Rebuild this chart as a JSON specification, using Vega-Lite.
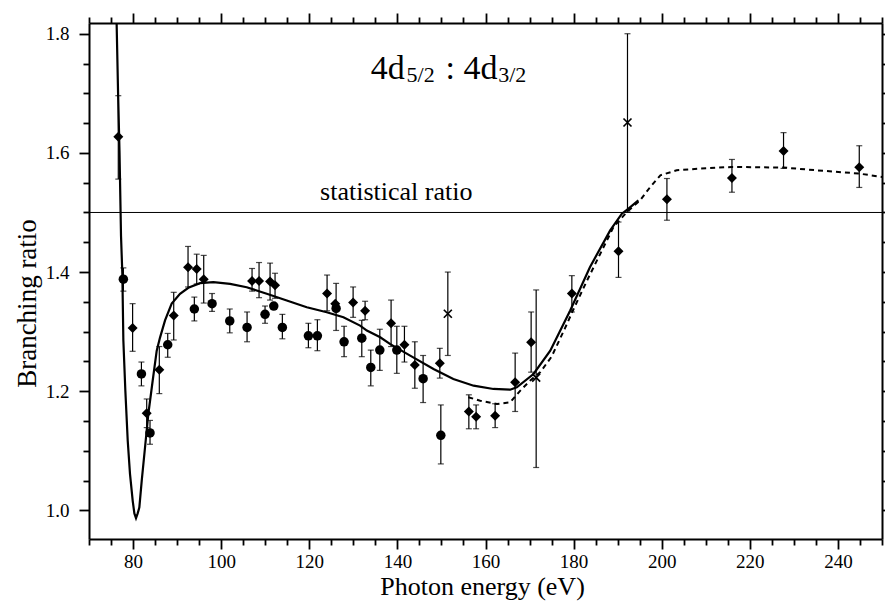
{
  "$schema": "https://vega.github.io/schema/vega-lite/v6.json",
  "width": 793,
  "height": 516,
  "autosize": "none",
  "padding": {"left": 89, "top": 23, "right": 3, "bottom": 63},
  "background": "white",
  "config": {
    "font": "Liberation Serif",
    "view": {"stroke": null},
    "axis": {
      "domainColor": "black", "domainWidth": 2, "tickColor": "black", "tickWidth": 1.8,
      "labelColor": "black", "labelFontSize": 19, "labelFont": "Liberation Serif",
      "titleFont": "Liberation Serif", "titleFontSize": 27, "titleFontWeight": "normal",
      "titleColor": "black", "grid": false, "labelOverlap": false, "labelFlush": false
    }
  },
  "datasets": {
    "pts": [
      {"x": 76.65, "y": 1.627, "lo": 1.556, "hi": 1.696, "m": "d"},
      {"x": 77.8, "y": 1.388, "lo": 1.368, "hi": 1.407, "m": "c"},
      {"x": 79.9, "y": 1.306, "lo": 1.267, "hi": 1.347, "m": "d"},
      {"x": 81.9, "y": 1.229, "lo": 1.209, "hi": 1.249, "m": "c"},
      {"x": 83.1, "y": 1.163, "lo": 1.139, "hi": 1.187, "m": "d"},
      {"x": 83.85, "y": 1.13, "lo": 1.111, "hi": 1.151, "m": "c"},
      {"x": 85.96, "y": 1.236, "lo": 1.196, "hi": 1.275, "m": "d"},
      {"x": 87.87, "y": 1.278, "lo": 1.257, "hi": 1.297, "m": "c"},
      {"x": 89.23, "y": 1.327, "lo": 1.286, "hi": 1.366, "m": "d"},
      {"x": 92.48, "y": 1.408, "lo": 1.375, "hi": 1.443, "m": "d"},
      {"x": 93.91, "y": 1.338, "lo": 1.318, "hi": 1.358, "m": "c"},
      {"x": 94.45, "y": 1.405, "lo": 1.38, "hi": 1.43, "m": "d"},
      {"x": 96.04, "y": 1.388, "lo": 1.348, "hi": 1.428, "m": "d"},
      {"x": 97.93, "y": 1.347, "lo": 1.334, "hi": 1.364, "m": "c"},
      {"x": 101.95, "y": 1.318, "lo": 1.298, "hi": 1.338, "m": "c"},
      {"x": 105.88, "y": 1.307, "lo": 1.283, "hi": 1.333, "m": "c"},
      {"x": 107.01, "y": 1.385, "lo": 1.368, "hi": 1.406, "m": "d"},
      {"x": 108.6, "y": 1.385, "lo": 1.357, "hi": 1.416, "m": "d"},
      {"x": 109.96, "y": 1.329, "lo": 1.314, "hi": 1.343, "m": "c"},
      {"x": 111.1, "y": 1.384, "lo": 1.353, "hi": 1.415, "m": "d"},
      {"x": 112.23, "y": 1.378, "lo": 1.356, "hi": 1.398, "m": "d"},
      {"x": 111.94, "y": 1.343, "lo": null, "hi": null, "m": "c"},
      {"x": 113.89, "y": 1.307, "lo": 1.288, "hi": 1.329, "m": "c"},
      {"x": 119.8, "y": 1.293, "lo": 1.273, "hi": 1.314, "m": "c"},
      {"x": 121.84, "y": 1.293, "lo": 1.268, "hi": 1.32, "m": "c"},
      {"x": 124.04, "y": 1.364, "lo": 1.335, "hi": 1.395, "m": "d"},
      {"x": 126.09, "y": 1.339, "lo": 1.302, "hi": 1.381, "m": "c"},
      {"x": 125.9, "y": 1.347, "lo": null, "hi": null, "m": "d"},
      {"x": 127.9, "y": 1.283, "lo": 1.258, "hi": 1.309, "m": "c"},
      {"x": 129.95, "y": 1.349, "lo": 1.324, "hi": 1.375, "m": "d"},
      {"x": 131.92, "y": 1.289, "lo": 1.258, "hi": 1.319, "m": "c"},
      {"x": 132.67, "y": 1.335, "lo": 1.32, "hi": 1.351, "m": "d"},
      {"x": 133.96, "y": 1.24, "lo": 1.209, "hi": 1.269, "m": "c"},
      {"x": 136.01, "y": 1.269, "lo": 1.235, "hi": 1.304, "m": "c"},
      {"x": 138.57, "y": 1.314, "lo": 1.275, "hi": 1.353, "m": "d"},
      {"x": 139.87, "y": 1.269, "lo": 1.23, "hi": 1.309, "m": "c"},
      {"x": 141.6, "y": 1.278, "lo": 1.249, "hi": 1.309, "m": "d"},
      {"x": 143.96, "y": 1.244, "lo": 1.205, "hi": 1.283, "m": "d"},
      {"x": 145.84, "y": 1.221, "lo": 1.181, "hi": 1.26, "m": "c"},
      {"x": 149.63, "y": 1.247, "lo": 1.222, "hi": 1.272, "m": "d"},
      {"x": 149.86, "y": 1.126, "lo": 1.078, "hi": 1.177, "m": "c"},
      {"x": 151.45, "y": 1.33, "lo": 1.26, "hi": 1.4, "m": "x"},
      {"x": 156.22, "y": 1.166, "lo": 1.137, "hi": 1.194, "m": "d"},
      {"x": 157.87, "y": 1.157, "lo": 1.137, "hi": 1.177, "m": "d"},
      {"x": 162.19, "y": 1.159, "lo": 1.139, "hi": 1.179, "m": "d"},
      {"x": 166.73, "y": 1.215, "lo": 1.166, "hi": 1.264, "m": "d"},
      {"x": 170.36, "y": 1.282, "lo": 1.232, "hi": 1.333, "m": "d"},
      {"x": 171.5, "y": 1.223, "lo": 1.072, "hi": 1.37, "m": "x"},
      {"x": 179.6, "y": 1.364, "lo": 1.333, "hi": 1.394, "m": "d"},
      {"x": 190.19, "y": 1.435, "lo": 1.391, "hi": 1.484, "m": "d"},
      {"x": 192.23, "y": 1.651, "lo": 1.501, "hi": 1.8, "m": "x"},
      {"x": 201.18, "y": 1.522, "lo": 1.487, "hi": 1.557, "m": "d"},
      {"x": 215.94, "y": 1.558, "lo": 1.534, "hi": 1.589, "m": "d"},
      {"x": 227.65, "y": 1.603, "lo": 1.574, "hi": 1.634, "m": "d"},
      {"x": 244.84, "y": 1.576, "lo": 1.542, "hi": 1.612, "m": "d"}
    ],
    "solid": [
      {"x": 76.27, "y": 1.818}, {"x": 76.6, "y": 1.7}, {"x": 76.93, "y": 1.6},
      {"x": 77.27, "y": 1.46}, {"x": 77.57, "y": 1.397}, {"x": 77.8, "y": 1.285},
      {"x": 78.25, "y": 1.201}, {"x": 78.79, "y": 1.117}, {"x": 79.31, "y": 1.061},
      {"x": 79.92, "y": 1.016}, {"x": 80.3, "y": 0.995}, {"x": 80.67, "y": 0.987},
      {"x": 81.05, "y": 0.995}, {"x": 81.43, "y": 1.005}, {"x": 81.97, "y": 1.05},
      {"x": 82.72, "y": 1.106}, {"x": 83.47, "y": 1.162}, {"x": 84.46, "y": 1.218},
      {"x": 85.37, "y": 1.268}, {"x": 86.12, "y": 1.29}, {"x": 87.26, "y": 1.319},
      {"x": 88.77, "y": 1.347}, {"x": 90.66, "y": 1.3635}, {"x": 92.55, "y": 1.3736},
      {"x": 95.2, "y": 1.3813}, {"x": 98.23, "y": 1.383}, {"x": 102.02, "y": 1.3803},
      {"x": 105.8, "y": 1.3746}, {"x": 110.35, "y": 1.3635}, {"x": 114.89, "y": 1.3523},
      {"x": 119.43, "y": 1.341}, {"x": 123.97, "y": 1.3326}, {"x": 127.75, "y": 1.3242},
      {"x": 131.53, "y": 1.3102}, {"x": 133.07, "y": 1.3018}, {"x": 136.1, "y": 1.2906},
      {"x": 138.3, "y": 1.2794}, {"x": 142.9, "y": 1.2598}, {"x": 148.2, "y": 1.2374},
      {"x": 152.7, "y": 1.2206}, {"x": 157.3, "y": 1.2093}, {"x": 161.8, "y": 1.2038},
      {"x": 165.6, "y": 1.2026}, {"x": 167.1, "y": 1.2065}, {"x": 170.9, "y": 1.2289},
      {"x": 174.7, "y": 1.268}, {"x": 179.2, "y": 1.3352}, {"x": 183.7, "y": 1.4082},
      {"x": 188.3, "y": 1.47}, {"x": 190.95, "y": 1.498}, {"x": 192.46, "y": 1.5064},
      {"x": 194.7, "y": 1.5204}
    ],
    "dashed": [
      {"x": 156.1, "y": 1.19}, {"x": 158.8, "y": 1.184}, {"x": 162.6, "y": 1.1785},
      {"x": 165.6, "y": 1.1813}, {"x": 167.9, "y": 1.201}, {"x": 170.1, "y": 1.2177},
      {"x": 172.4, "y": 1.2317}, {"x": 175.0, "y": 1.258}, {"x": 178.0, "y": 1.305},
      {"x": 180.0, "y": 1.338}, {"x": 183.0, "y": 1.385}, {"x": 186.0, "y": 1.43},
      {"x": 189.05, "y": 1.4755}, {"x": 192.1, "y": 1.5007}, {"x": 195.1, "y": 1.5204},
      {"x": 197.4, "y": 1.5428}, {"x": 199.7, "y": 1.5624}, {"x": 203.4, "y": 1.5708},
      {"x": 208.7, "y": 1.5737}, {"x": 215.9, "y": 1.5764}, {"x": 227.65, "y": 1.5754},
      {"x": 235.2, "y": 1.5708}, {"x": 244.8, "y": 1.5653}, {"x": 250.0, "y": 1.5596}
    ]
  },
  "layer": [
    {
      "encoding": {
        "x": {
          "field": "x", "type": "quantitative",
          "scale": {"domain": [70, 250], "nice": false, "zero": false},
          "axis": {
            "orient": "bottom", "title": "Photon energy (eV)",
            "values": [70,75,80,85,90,95,100,105,110,115,120,125,130,135,140,145,150,155,160,165,170,175,180,185,190,195,200,205,210,215,220,225,230,235,240,245,250],
            "labelExpr": "datum.value % 20 === 0 ? datum.label : ''",
            "tickSize": {"condition": {"test": "datum.value % 20 === 0", "value": 10}, "value": 6},
            "labelPadding": 3,
            "titleFontSize": 26,
            "titleBaseline": "alphabetic", "titleY": 55.5, "titleX": 393
          }
        },
        "y": {
          "field": "y", "type": "quantitative",
          "scale": {"domain": [0.952, 1.818], "nice": false, "zero": false},
          "axis": {
            "orient": "left", "title": "Branching ratio",
            "values": [0.95,1.0,1.05,1.1,1.15,1.2,1.25,1.3,1.35,1.4,1.45,1.5,1.55,1.6,1.65,1.7,1.75,1.8],
            "labelExpr": "round(datum.value*100) % 20 === 0 ? format(datum.value, '.1f') : ''",
            "tickSize": {"condition": {"test": "round(datum.value*100) % 20 === 0", "value": 10}, "value": 6},
            "labelPadding": 10,
            "titleBaseline": "alphabetic", "titleX": -54, "titleY": 280
          }
        }
      },
      "layer": [
        {
          "data": {"values": [{"y": 1.5}]},
          "mark": {"type": "rule", "color": "black", "strokeWidth": 1},
          "encoding": {"x": null}
        },
        {
          "data": {"name": "solid"},
          "mark": {"type": "line", "color": "black", "strokeWidth": 2.2, "clip": true}
        },
        {
          "data": {"name": "dashed"},
          "mark": {"type": "line", "color": "black", "strokeWidth": 2, "strokeDash": [5, 4], "clip": true}
        },
        {
          "data": {"name": "pts"},
          "mark": {"type": "rule", "color": "black", "strokeWidth": 1.2},
          "encoding": {
            "y": {"field": "lo", "type": "quantitative", "scale": {"domain": [0.952, 1.818], "nice": false, "zero": false}},
            "y2": {"field": "hi"}
          }
        },
        {
          "data": {"name": "pts"},
          "mark": {"type": "tick", "color": "black", "orient": "horizontal", "size": 6, "thickness": 1.2},
          "encoding": {
            "y": {"field": "lo", "type": "quantitative", "scale": {"domain": [0.952, 1.818], "nice": false, "zero": false}}
          }
        },
        {
          "data": {"name": "pts"},
          "mark": {"type": "tick", "color": "black", "orient": "horizontal", "size": 6, "thickness": 1.2},
          "encoding": {
            "y": {"field": "hi", "type": "quantitative", "scale": {"domain": [0.952, 1.818], "nice": false, "zero": false}}
          }
        },
        {
          "data": {"name": "pts"},
          "transform": [{"filter": "datum.m === 'c'"}],
          "mark": {"type": "point", "shape": "circle", "filled": true, "color": "black", "size": 90, "opacity": 1}
        },
        {
          "data": {"name": "pts"},
          "transform": [{"filter": "datum.m === 'd'"}],
          "mark": {"type": "point", "shape": "diamond", "filled": true, "color": "black", "size": 100, "opacity": 1}
        },
        {
          "data": {"name": "pts"},
          "transform": [{"filter": "datum.m === 'x'"}],
          "mark": {"type": "point", "shape": "M-1,-1L1,1M-1,1L1,-1", "filled": false, "color": "black", "strokeWidth": 1.7, "size": 64, "opacity": 1}
        },
        {
          "data": {"values": [{"x": 133.96, "y": 1.7233, "t": "4d"}, {"x": 154.99, "y": 1.7233, "t": "4d"}]},
          "mark": {"type": "text", "align": "left", "baseline": "alphabetic", "fontSize": 34, "font": "Liberation Serif", "color": "black"},
          "encoding": {"text": {"field": "t"}}
        },
        {
          "data": {"values": [{"x": 151.97, "y": 1.7233, "t": ":"}]},
          "mark": {"type": "text", "align": "center", "baseline": "alphabetic", "fontSize": 34, "font": "Liberation Serif", "color": "black"},
          "encoding": {"text": {"field": "t"}}
        },
        {
          "data": {"values": [{"x": 142.09, "y": 1.7196, "t": "5/2"}, {"x": 162.87, "y": 1.7196, "t": "3/2"}]},
          "mark": {"type": "text", "align": "left", "baseline": "alphabetic", "fontSize": 22, "font": "Liberation Serif", "color": "black"},
          "encoding": {"text": {"field": "t"}}
        },
        {
          "data": {"values": [{"x": 122.45, "y": 1.5204, "t": "statistical ratio"}]},
          "mark": {"type": "text", "align": "left", "baseline": "alphabetic", "fontSize": 26, "font": "Liberation Serif", "color": "black"},
          "encoding": {"text": {"field": "t"}}
        }
      ]
    },
    {
      "data": {"values": [{"x": 70, "y": 1.0}]},
      "mark": {"type": "point", "opacity": 0},
      "encoding": {
        "x": {
          "field": "x", "type": "quantitative",
          "scale": {"domain": [70, 250], "nice": false, "zero": false},
          "axis": {
            "orient": "top", "title": null, "labels": false,
            "values": [70,75,80,85,90,95,100,105,110,115,120,125,130,135,140,145,150,155,160,165,170,175,180,185,190,195,200,205,210,215,220,225,230,235,240,245,250],
            "tickSize": {"condition": {"test": "datum.value % 20 === 0", "value": 10}, "value": 6}
          }
        },
        "y": {
          "field": "y", "type": "quantitative",
          "scale": {"domain": [0.952, 1.818], "nice": false, "zero": false},
          "axis": {
            "orient": "right", "title": null, "labels": false,
            "values": [0.95,1.0,1.05,1.1,1.15,1.2,1.25,1.3,1.35,1.4,1.45,1.5,1.55,1.6,1.65,1.7,1.75,1.8],
            "tickSize": {"condition": {"test": "round(datum.value*100) % 20 === 0", "value": 10}, "value": 6}
          }
        }
      }
    }
  ],
  "resolve": {"axis": {"x": "independent", "y": "independent"}}
}
